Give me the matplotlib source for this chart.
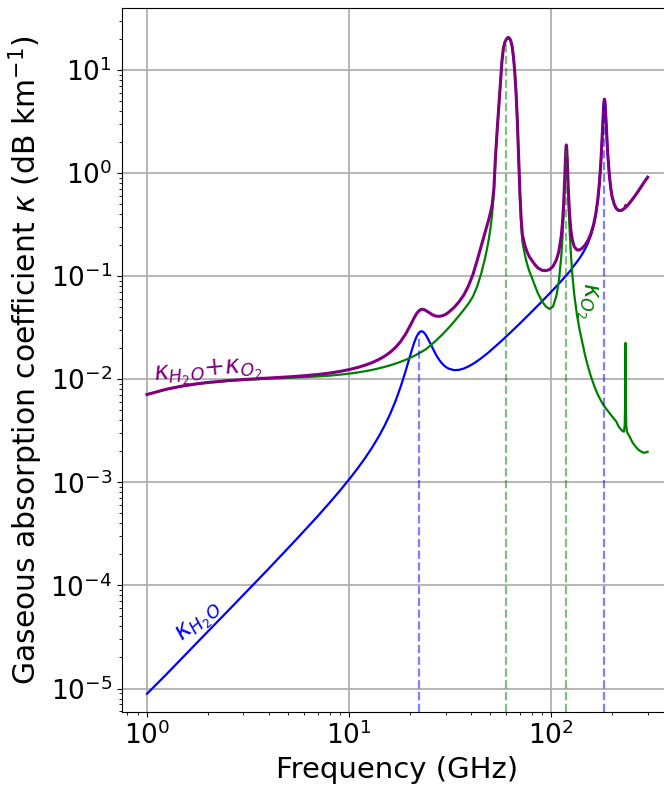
import numpy as np
import matplotlib
matplotlib.use("Agg")
import matplotlib.pyplot as plt
from matplotlib.ticker import NullFormatter

# frequency grid (GHz) shared by the three curves
freq = [1, 1.25, 1.5, 1.75, 2, 2.5, 3, 3.5, 4, 5, 6, 7, 8, 9, 10,
        11, 12, 13, 14, 15, 16, 17, 18, 19, 20,
        20.5, 21, 21.5, 22, 22.5, 23, 23.5, 24, 24.5, 25, 26, 27, 28, 29, 30,
        31, 33, 35, 37, 39, 41, 43, 45, 47, 48, 49, 50,
        51, 52, 53, 54, 55, 56, 57, 58, 59, 60, 61, 62, 63, 64, 65, 66, 67, 68, 69, 70, 71, 72,
        74, 76, 78, 80, 83, 86, 90, 94, 98, 102, 106, 109, 112,
        113.5, 115, 116, 117, 117.6, 118.2, 118.75, 119.3, 119.9, 120.5, 121.5, 123, 125,
        127, 130, 134, 138, 142, 147, 152, 157, 162, 166, 170, 173, 176, 178,
        179.5, 180.5, 181.5, 182.3, 183.3, 184.3, 185.1, 186.1, 187.5, 189, 191, 194, 197, 200,
        205, 210, 215, 220, 225, 229, 231, 232.3, 233, 233.7, 235, 237, 241, 246, 252, 260, 268, 277, 288, 300]

# water vapour (dB/km)
k_h2o = [8.9e-6, 1.38e-5, 2.0e-5, 2.73e-5, 3.57e-5, 5.6e-5, 8.1e-5, 1.107e-4, 1.455e-4, 2.31e-4, 3.39e-4, 4.71e-4, 6.33e-4, 8.29e-4, 1.068e-3,
         1.36e-3, 1.722e-3, 2.18e-3, 2.773e-3, 3.566e-3, 4.657e-3, 6.214e-3, 8.496e-3, 0.01188, 0.01673,
         0.01966, 0.02272, 0.02559, 0.02783, 0.02907, 0.02917, 0.02829, 0.02675, 0.02489, 0.02299, 0.0196, 0.01705, 0.01526, 0.01403, 0.01321,
         0.0127, 0.01226, 0.01233, 0.01272, 0.01333, 0.01409, 0.01499, 0.01598, 0.01707, 0.01765, 0.01824, 0.01892,
         0.01955, 0.02021, 0.02088, 0.02157, 0.02228, 0.023, 0.02374, 0.0245, 0.02526, 0.02606, 0.02685, 0.02768, 0.02851, 0.02936, 0.03022, 0.03111, 0.032, 0.03292, 0.03384, 0.03479, 0.03574, 0.03672,
         0.03872, 0.04077, 0.04289, 0.04507, 0.04846, 0.052, 0.05694, 0.06216, 0.06766, 0.07347, 0.07959, 0.08441, 0.08944,
         0.09207, 0.09475, 0.09656, 0.09838, 0.09949, 0.1006, 0.1016, 0.1027, 0.1039, 0.1051, 0.107, 0.1101, 0.1142,
         0.1201, 0.1272, 0.1375, 0.1491, 0.1625, 0.1827, 0.2091, 0.2469, 0.3073, 0.3906, 0.5472, 0.7795, 1.264, 1.911,
         2.718, 3.45, 4.272, 4.851, 5.203, 4.969, 4.458, 3.683, 2.718, 1.988, 1.394, 0.9364, 0.7104, 0.5881,
         0.4941, 0.4495, 0.4318, 0.4296, 0.4365, 0.4472, 0.4534, 0.4581, 0.4611, 0.4632, 0.4682, 0.4767, 0.4945, 0.5197, 0.5529, 0.6004, 0.6548, 0.7242, 0.8125, 0.9093]

# oxygen (dB/km)
k_o2 = [0.007105, 0.007998, 0.008585, 0.008985, 0.009269, 0.009633, 0.009854, 0.010006, 0.010123, 0.010308, 0.010474, 0.010647, 0.010839, 0.011074, 0.011334,
        0.011634, 0.011966, 0.01233, 0.012742, 0.013187, 0.013674, 0.014206, 0.014788, 0.015409, 0.016074,
        0.016457, 0.016857, 0.017262, 0.017693, 0.018144, 0.018604, 0.019083, 0.019576, 0.02022, 0.020878, 0.022303, 0.023841, 0.025521, 0.027319, 0.029273,
        0.031387, 0.036043, 0.041397, 0.047434, 0.054285, 0.06348, 0.07948, 0.10538, 0.148, 0.1801, 0.2236, 0.2879,
        0.398, 0.63, 1.41, 2.57, 4.37, 7.41, 12.0, 16.4, 18.6, 19.9, 20.6, 20.4, 19.3, 17.0, 13.5, 9.55, 5.89, 3.09, 1.38, 0.60, 0.32, 0.215,
        0.161, 0.1305, 0.1108, 0.0982, 0.0809, 0.0679, 0.0571, 0.0508, 0.0481, 0.0507, 0.064, 0.0885, 0.152,
        0.2257, 0.38, 0.5877, 0.9687, 1.3025, 1.6362, 1.7713, 1.636, 1.302, 0.9675, 0.5858, 0.3113, 0.1672,
        0.1066, 0.0658, 0.0423, 0.0305, 0.02345, 0.0171, 0.0133, 0.0107, 0.00897, 0.00792, 0.0071, 0.00662, 0.00621, 0.00598,
        0.0058, 0.00569, 0.00559, 0.00552, 0.00544, 0.00537, 0.00532, 0.00525, 0.00514, 0.00503, 0.00491, 0.00471, 0.00453, 0.00436,
        0.00411, 0.00388, 0.0035, 0.0033, 0.00315, 0.0031, 0.0036, 0.0062, 0.0225, 0.0062, 0.0036, 0.0031, 0.0029, 0.0027, 0.00245, 0.00225, 0.0021, 0.002, 0.00193, 0.00198]

# total (dB/km)
k_tot = [0.007114, 0.008012, 0.008605, 0.009012, 0.009305, 0.009689, 0.009935, 0.010117, 0.010269, 0.010539, 0.010813, 0.011118, 0.011472, 0.011903, 0.012402,
         0.012994, 0.013688, 0.01451, 0.015515, 0.016753, 0.018331, 0.02042, 0.023284, 0.027291, 0.032799,
         0.036115, 0.03958, 0.04285, 0.045518, 0.047211, 0.047777, 0.047373, 0.046323, 0.04511, 0.043865, 0.041907, 0.040894, 0.040777, 0.041347, 0.042487,
         0.0445, 0.0495, 0.0565, 0.066, 0.081, 0.104, 0.142, 0.195, 0.265, 0.305, 0.35, 0.41,
         0.49, 0.7, 1.45, 2.592, 4.392, 7.433, 12.02, 16.42, 18.63, 19.93, 20.63, 20.43, 19.33, 17.03, 13.53, 9.581, 5.922, 3.123, 1.414, 0.6348, 0.3557, 0.2517,
         0.1997, 0.1713, 0.1537, 0.1433, 0.1294, 0.1199, 0.114, 0.113, 0.1158, 0.1242, 0.1436, 0.1729, 0.2414,
         0.3178, 0.4748, 0.6843, 1.0671, 1.402, 1.7368, 1.8729, 1.7387, 1.4059, 1.0726, 0.6928, 0.4214, 0.2814,
         0.2267, 0.193, 0.1798, 0.1796, 0.1859, 0.1998, 0.2224, 0.2576, 0.3162, 0.3985, 0.5543, 0.7862, 1.2702, 1.9167,
         2.7238, 3.4554, 4.2771, 4.8566, 5.2083, 4.9747, 4.4637, 3.6885, 2.7232, 1.9934, 1.3987, 0.9411, 0.7149, 0.5925,
         0.4982, 0.4534, 0.4353, 0.4329, 0.4397, 0.4503, 0.457, 0.4643, 0.4836, 0.4694, 0.4718, 0.4798, 0.4974, 0.5224, 0.5554, 0.6027, 0.6569, 0.7262, 0.8144, 0.9113]

# line centres (GHz)
h2o_lines = [22.235, 183.31]
o2_lines = [60.0, 118.75]

plt.rcParams['font.size'] = 19

fig = plt.figure(figsize=(6.64, 7.85), dpi=100)
ax = fig.add_axes([122/664, 73/785, 550.7/664, 704/785])

f = np.array(freq)
ax.plot(f, k_h2o, color='blue', lw=1.6)
ax.plot(f, k_o2, color='green', lw=1.6)
ax.plot(f, k_tot, color='purple', lw=2.2)

ax.set_xscale('log')
ax.set_yscale('log')
ax.set_xlim(0.752, 399)
ax.set_ylim(5.92e-6, 39.9)
ax.xaxis.set_minor_formatter(NullFormatter())
ax.yaxis.set_minor_formatter(NullFormatter())

ymin = ax.get_ylim()[0]
for fl in h2o_lines:
    top = 10**np.interp(np.log10(fl), np.log10(f), np.log10(k_h2o))
    ax.vlines(fl, ymin, top, colors='blue', linestyles='--', alpha=0.5, lw=1.6)
for fl in o2_lines:
    top = 10**np.interp(np.log10(fl), np.log10(f), np.log10(k_o2))
    ax.vlines(fl, ymin, top, colors='green', linestyles='--', alpha=0.5, lw=1.6)

ax.text(2.0, 0.0119, r'$\kappa_{H_2O}$+$\kappa_{O_2}$', color='purple', fontsize=18,
        rotation=5, ha='center', va='center')
ax.text(150, 0.058, r'$\kappa_{O_2}$', color='green', fontsize=18,
        rotation=-90, ha='center', va='center')
ax.text(1.82, 4.3e-5, r'$\kappa_{H_2O}$', color='blue', fontsize=18,
        rotation=40, ha='center', va='center')

ax.grid(True, which='major', color='#b0b0b0', lw=1.3)
ax.set_axisbelow(True)
ax.set_xlabel('Frequency (GHz)', fontsize=21)
ax.set_ylabel(r'Gaseous absorption coefficient $\kappa$ (dB km$^{-1}$)', fontsize=21.5)

fig.savefig('out.png', dpi=100)
